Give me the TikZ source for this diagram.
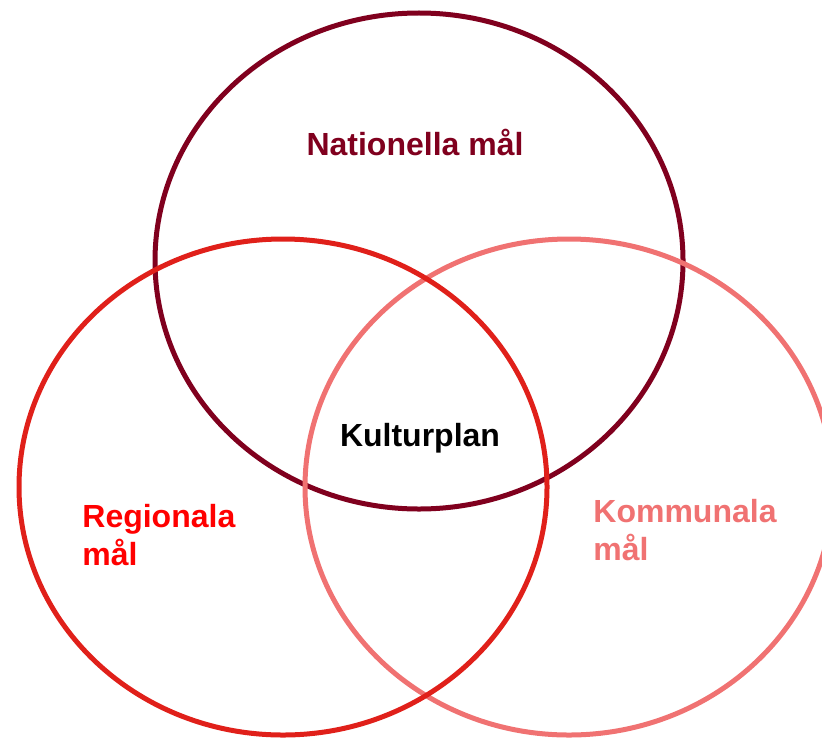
\documentclass[tikz,border=0pt]{standalone}
\usepackage{fontspec}
\setmainfont{Liberation Sans}
\usetikzlibrary{shapes.geometric}
\definecolor{nationalcol}{HTML}{80001E}
\definecolor{regioncol}{HTML}{E0201A}
\definecolor{kommuncol}{HTML}{F07272}
\definecolor{regiontext}{HTML}{FF0000}
\tikzset{
	goalring/.style={ellipse, draw, line width=2.5pt, inner sep=0pt, minimum width=264pt, minimum height=248pt},
	goallabel/.style={font=\fontsize{16}{19}\selectfont\bfseries, inner sep=0pt, align=left}
}
\begin{document}
\begin{tikzpicture}[x=0.5pt, y=-0.5pt]
				\useasboundingbox (0,0) rectangle (822,738);
				% ringar
				\node[goalring, draw=nationalcol] (nat) at (419,261) {};
				\node[goalring, draw=kommuncol] (kom) at (569,487) {};
				\node[goalring, draw=regioncol] (reg) at (283,487) {};
				
				% texter
				\node[goallabel, text=nationalcol, anchor=base] (natlabel) at (415,155) {Nationella mål};
				\node[goallabel, text=black, anchor=base] (kultur) at (420,446) {Kulturplan};
				\node[goallabel, text=regiontext, anchor=base west] (reglabel) at (82,565) {Regionala\\mål};
				\node[goallabel, text=kommuncol, anchor=base west] (komlabel) at (593,560) {Kommunala\\mål};
			\end{tikzpicture}
\end{document}
